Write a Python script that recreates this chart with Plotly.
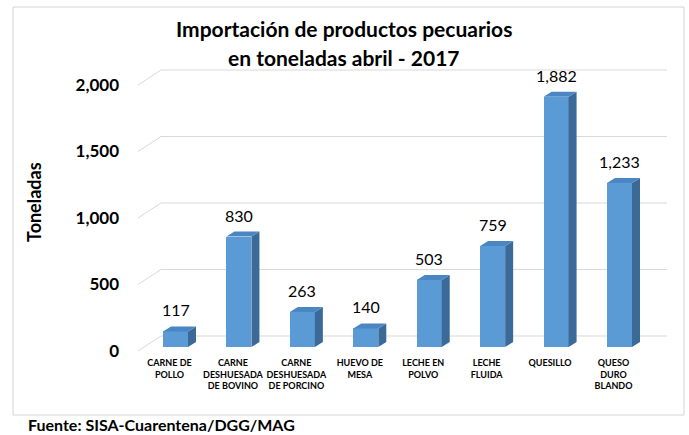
import plotly.graph_objects as go

# data
categorias = ["CARNE DE<br>POLLO", "CARNE<br>DESHUESADA<br>DE BOVINO", "CARNE<br>DESHUESADA<br>DE PORCINO",
              "HUEVO DE<br>MESA", "LECHE EN<br>POLVO", "LECHE<br>FLUIDA", "QUESILLO", "QUESO<br>DURO<br>BLANDO"]
toneladas = [117, 830, 263, 140, 503, 759, 1882, 1233]
y_ticks = [0, 500, 1000, 1500, 2000]

titulo_1 = "Importación de productos pecuarios"
titulo_2 = "en toneladas abril - 2017"
y_titulo = "Toneladas"
fuente = "Fuente: SISA-Cuarentena/DGG/MAG"

# layout geometry (pixels)
W, H = 689, 435
L, R, T, B = 120, 667, 60, 356
S = 63.43          # px per category
K = 0.133          # px per tonelada
base_px = 347      # pixel row of value 0 on bar plane
x_lo = -(175.5 - L) / S
x_hi = x_lo + (R - L) / S
y_lo = (base_px - B) / K
y_hi = (base_px - T) / K

w = 25 / S
dx = 8 / S
dy = 5 / K

FRONT = "#5b9bd5"
SIDE = "#3c6a98"
TOP = "#4a86c2"
FONT = "Lato"


def px_x(p):
    return (p - L) / (R - L)


def px_y(p):
    return (B - p) / (B - T)


xs = list(range(len(toneladas)))

fig = go.Figure()
fig.add_trace(go.Bar(x=xs, y=toneladas, width=w, marker=dict(color=FRONT, line=dict(width=0)),
                     hoverinfo="skip"))

# 3d side and top faces
side_x, side_y, top_x, top_y = [], [], [], []
for c, v in zip(xs, toneladas):
    r = c + w / 2
    side_x += [r, r + dx, r + dx, r, r, None]
    side_y += [0, dy, v + dy, v, 0, None]
    top_x += [c - w / 2, c - w / 2 + dx, r + dx, r, c - w / 2, None]
    top_y += [v, v + dy, v + dy, v, v, None]
fig.add_trace(go.Scatter(x=side_x, y=side_y, mode="lines", fill="toself", fillcolor=SIDE,
                         line=dict(width=0, color=SIDE), hoverinfo="skip"))
fig.add_trace(go.Scatter(x=top_x, y=top_y, mode="lines", fill="toself", fillcolor=TOP,
                         line=dict(width=0, color=TOP), hoverinfo="skip"))

# back-wall gridlines with floor diagonal
shapes = []
for v in y_ticks:
    shapes.append(dict(type="path", xref="x", yref="y", xsizemode="pixel", ysizemode="pixel",
                       xanchor=x_lo, yanchor=v, path="M 18,-4 L 41,11 L 547,11",
                       line=dict(color="#d9d9d9", width=1), layer="below"))
# chart frame
shapes.append(dict(type="rect", xref="paper", yref="paper", x0=px_x(13), x1=px_x(684),
                   y0=px_y(415), y1=px_y(7), line=dict(color="#d4d4d4", width=1), layer="below"))

annotations = []
for c, v in zip(xs, toneladas):
    annotations.append(dict(x=c, y=v, xref="x", yref="y", text=f"{v:,}", showarrow=False,
                            yanchor="bottom", yshift=10, font=dict(family=FONT, size=16, color="#000")))
annotations += [
    dict(x=px_x(344), y=px_y(28), xref="paper", yref="paper", text=f"<b>{titulo_1}</b>", showarrow=False,
         xanchor="center", yanchor="middle", font=dict(family=FONT, size=21, color="#000")),
    dict(x=px_x(344), y=px_y(58), xref="paper", yref="paper", text=f"<b>{titulo_2}</b>", showarrow=False,
         xanchor="center", yanchor="middle", font=dict(family=FONT, size=21, color="#000")),
    dict(x=px_x(34), y=px_y(202), xref="paper", yref="paper", text=f"<b>{y_titulo}</b>", showarrow=False,
         xanchor="center", yanchor="middle", textangle=-90, font=dict(family=FONT, size=18, color="#000")),
    dict(x=px_x(26), y=px_y(424), xref="paper", yref="paper", text=f"<b>{fuente}</b>", showarrow=False,
         xanchor="left", yanchor="middle", font=dict(family=FONT, size=16, color="#000")),
]

fig.update_layout(
    width=W, height=H, autosize=False,
    margin=dict(l=L, r=W - R, t=T, b=H - B, pad=0),
    paper_bgcolor="white", plot_bgcolor="white",
    showlegend=False, bargap=0,
    shapes=shapes, annotations=annotations,
    xaxis=dict(range=[x_lo, x_hi], tickvals=xs, ticktext=categorias, showgrid=False, zeroline=False,
               showline=False, ticks="", ticklabelshift=-6,
               tickfont=dict(family=FONT, size=9, color="#000", weight="bold")),
    yaxis=dict(range=[y_lo, y_hi], tickvals=y_ticks, tickformat=",d", showgrid=False, zeroline=False,
               showline=False, ticks="", ticklabelshift=4,
               tickfont=dict(family=FONT, size=17, color="#000", weight="bold")),
)

# page has a default body margin; remove it so the figure sits at (0, 0)
fig.write_html("out.html", config={"displayModeBar": False},
               post_script="document.body.style.margin='0px';")
